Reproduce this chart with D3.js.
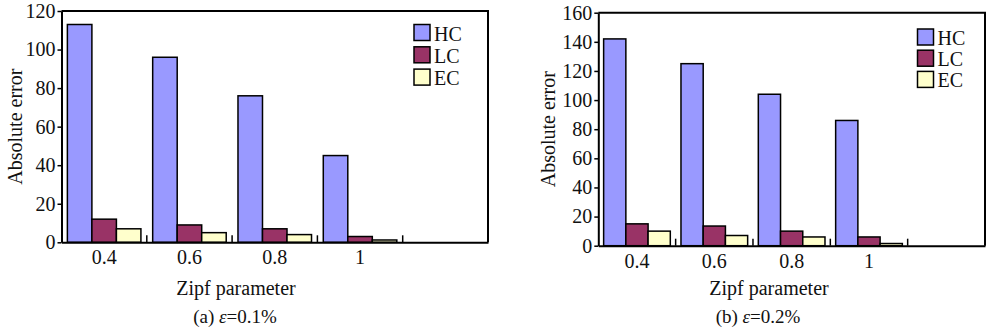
<!DOCTYPE html>
<html>
<head>
<meta charset="utf-8">
<script src="https://cdn.jsdelivr.net/npm/d3@7/dist/d3.min.js"></script>
<style>
  body { margin: 0; background: #fff; }
  svg text { font-family: 'Liberation Serif', 'Times New Roman', Times, 'DejaVu Serif', serif !important; fill: #111; }
</style>
</head>
<body>
<svg id="chart" width="986" height="331"></svg>
<script>
// data
const categories = ["0.4", "0.6", "0.8", "1", ""];
const seriesNames = ["HC", "LC", "EC"];
const seriesColors = ["#9999ff", "#993366", "#ffffcc"];

// (a) eps = 0.1%
const hcA = [113, 96, 76, 45];
const lcA = [12, 9, 7, 3];
const ecA = [7, 5, 4, 1.2];
const yTicksA = [0, 20, 40, 60, 80, 100, 120];

// (b) eps = 0.2%
const hcB = [142, 125, 104, 86];
const lcB = [15, 13.5, 10, 6];
const ecB = [10, 7, 6, 1.5];
const yTicksB = [0, 20, 40, 60, 80, 100, 120, 140, 160];

const svg = d3.select('#chart');
const FONT = "'Liberation Serif', 'Times New Roman', Times, serif";

function drawPanel(opt) {
    const g = svg.append('g');

    const x = d3.scaleBand()
        .domain(categories)
        .range([opt.left, opt.right]);
    const inner = d3.scaleBand()
        .domain(seriesNames)
        .range([0, x.bandwidth()])
        .paddingOuter(0.24);
    const y = d3.scaleLinear()
        .domain([0, d3.max(opt.ticks)])
        .range([opt.bottom, opt.top]);

    const series = [opt.hc, opt.lc, opt.ec];

    // bars
    series.forEach((vals, si) => {
        g.selectAll('.bar-' + si)
            .data(vals)
            .join('rect')
            .attr('x', (d, i) => x(categories[i]) + inner(seriesNames[si]))
            .attr('y', d => y(d))
            .attr('width', inner.bandwidth())
            .attr('height', d => y(0) - y(d))
            .attr('fill', seriesColors[si])
            .attr('stroke', '#000')
            .attr('stroke-width', 1.5);
    });

    // frame (top + right)
    g.append('path')
        .attr('d', `M${opt.left},${opt.top}H${opt.right}V${opt.bottom}`)
        .attr('fill', 'none')
        .attr('stroke', '#000')
        .attr('stroke-width', 2);

    // y axis
    const yAxis = g.append('g')
        .attr('transform', `translate(${opt.left},0)`)
        .call(d3.axisLeft(y).tickValues(opt.ticks).tickSize(4).tickPadding(2).tickSizeOuter(0));
    yAxis.attr('font-family', FONT).attr('font-size', 20);
    yAxis.select('.domain').attr('stroke-width', 2);
    yAxis.selectAll('.tick line').attr('stroke-width', 1.5);
    yAxis.selectAll('text').attr('fill', '#111');

    // x axis
    const xAxis = g.append('g')
        .attr('transform', `translate(0,${opt.bottom})`)
        .call(d3.axisBottom(x).tickSize(0).tickPadding(8).tickSizeOuter(0));
    xAxis.attr('font-family', FONT).attr('font-size', 20);
    xAxis.select('.domain').attr('stroke-width', 2);
    xAxis.selectAll('text').attr('fill', '#111');

    // category boundary ticks (pointing up)
    g.selectAll('.xtick')
        .data(categories.slice(1))
        .join('line')
        .attr('x1', d => x(d))
        .attr('x2', d => x(d))
        .attr('y1', opt.bottom)
        .attr('y2', opt.bottom - 7)
        .attr('stroke', '#000')
        .attr('stroke-width', 1.5);

    // axis titles
    g.append('text')
        .attr('transform', `translate(${opt.yTitleX},${(opt.top + opt.bottom) / 2}) rotate(-90)`)
        .attr('text-anchor', 'middle')
        .attr('font-family', FONT)
        .attr('font-size', 20)
        .text('Absolute error');

    g.append('text')
        .attr('x', opt.xTitleX)
        .attr('y', 295)
        .attr('text-anchor', 'middle')
        .attr('font-family', FONT)
        .attr('font-size', 20)
        .text('Zipf parameter');

    const cap = g.append('text')
        .attr('x', opt.capX)
        .attr('y', 323)
        .attr('text-anchor', 'middle')
        .attr('font-family', FONT)
        .attr('font-size', 19);
    cap.append('tspan').text(opt.capLabel + ' ');
    cap.append('tspan').style('font-style', 'italic').text('ε');
    cap.append('tspan').text('=' + opt.capValue);

    // legend
    const leg = g.append('g')
        .attr('transform', `translate(${opt.legX},${opt.legY})`);
    seriesNames.forEach((name, i) => {
        leg.append('rect')
            .attr('x', 0)
            .attr('y', i * opt.legStep)
            .attr('width', 16)
            .attr('height', 16)
            .attr('fill', seriesColors[i])
            .attr('stroke', '#000')
            .attr('stroke-width', 1.5);
        leg.append('text')
            .attr('x', 20)
            .attr('y', i * opt.legStep + 16)
            .attr('font-family', FONT)
            .attr('font-size', 20)
            .text(name);
    });
}

drawPanel({
    left: 61.5, right: 488, top: 11, bottom: 242.3,
    hc: hcA, lc: lcA, ec: ecA, ticks: yTicksA,
    yTitleX: 22, xTitleX: 236, capX: 235,
    capLabel: '(a)', capValue: '0.1%',
    legX: 414, legY: 24.5, legStep: 22.3
});

drawPanel({
    left: 598.3, right: 985, top: 12.7, bottom: 245.7,
    hc: hcB, lc: lcB, ec: ecB, ticks: yTicksB,
    yTitleX: 555, xTitleX: 769, capX: 758,
    capLabel: '(b)', capValue: '0.2%',
    legX: 917.5, legY: 29, legStep: 21.2
});
</script>
</body>
</html>
